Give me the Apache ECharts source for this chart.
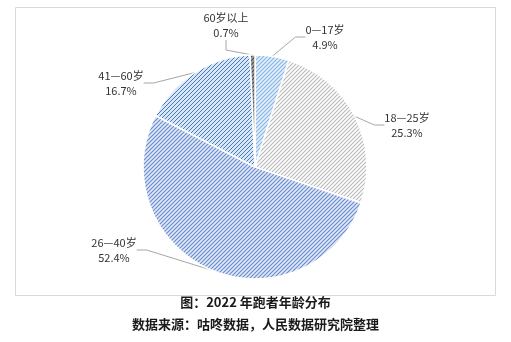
<!DOCTYPE html>
<html><head><meta charset="utf-8">
<script src="https://cdn.jsdelivr.net/npm/echarts@6/dist/echarts.min.js"></script>
<style>html,body{margin:0;padding:0;background:#fff}#c{width:511px;height:342px}</style>
</head><body><div id="c"></div>
<script>
const categories = ['0—17岁', '18—25岁', '26—40岁', '41—60岁', '60岁以上'];
const shares = [4.9, 25.3, 52.4, 16.7, 0.7];
const titleText = '图：2022 年跑者年龄分布';
const sourceText = '数据来源：咕咚数据，人民数据研究院整理';

function hatch(bg, fg, lw) {
  const s = 4;
  const c = document.createElement('canvas');
  c.width = s; c.height = s;
  const g = c.getContext('2d');
  g.fillStyle = bg; g.fillRect(0, 0, s, s);
  g.strokeStyle = fg; g.lineWidth = lw;
  g.beginPath();
  g.moveTo(-1, s + 1); g.lineTo(s + 1, -1);
  g.moveTo(-1, 1); g.lineTo(1, -1);
  g.moveTo(s - 1, s + 1); g.lineTo(s + 1, s - 1);
  g.stroke();
  return { image: c, repeat: 'repeat' };
}
const fills = [
  hatch('#e6f0fb', '#86b6e5', 1.2),
  hatch('#ffffff', '#b8b8b8', 1.1),
  hatch('#e2e9f7', '#6a8ccf', 1.2),
  hatch('#d8e7f6', '#4a7abb', 1.0),
  hatch('#a0a0a0', '#505050', 1.2)
];
const labelPos = [
  [325, 37], [407, 125], [114, 250], [121, 83], [226, 25]
];

const chart = echarts.init(document.getElementById('c'), null, { renderer: 'canvas' });
chart.setOption({
  animation: false,
  graphic: [
    { type: 'rect', shape: { x: 15.5, y: 7.5, width: 480, height: 288 }, style: { fill: 'none', stroke: '#d9d9d9', lineWidth: 1 }, silent: true },
    { type: 'text', left: 'center', top: 296, style: { text: titleText, font: 'bold 13px "Noto Sans CJK SC"', fill: '#1a1a1a' } },
    { type: 'text', left: 'center', top: 318, style: { text: sourceText, font: 'bold 13px "Noto Sans CJK SC"', fill: '#1a1a1a' } }
  ],
  series: [{
    type: 'pie',
    center: [255, 167],
    radius: 112,
    startAngle: 90,
    clockwise: true,
    data: categories.map((n, i) => ({ name: n, value: shares[i], itemStyle: { color: fills[i] } })),
    itemStyle: { borderColor: '#ffffff', borderWidth: 1.5 },
    label: {
      show: true,
      formatter: p => p.name + '\n' + p.value.toFixed(1) + '%',
      fontFamily: '"Noto Sans CJK SC"',
      fontSize: 11,
      lineHeight: 15,
      color: '#333',
      align: 'center'
    },
    labelLine: { show: true, length: 10, length2: 10, lineStyle: { color: '#a6a6a6', width: 1 } },
    labelLayout: p => ({ x: labelPos[p.dataIndex][0], y: labelPos[p.dataIndex][1], align: 'center', verticalAlign: 'middle' }),
    emphasis: { disabled: true }
  }]
});
</script></body></html>
